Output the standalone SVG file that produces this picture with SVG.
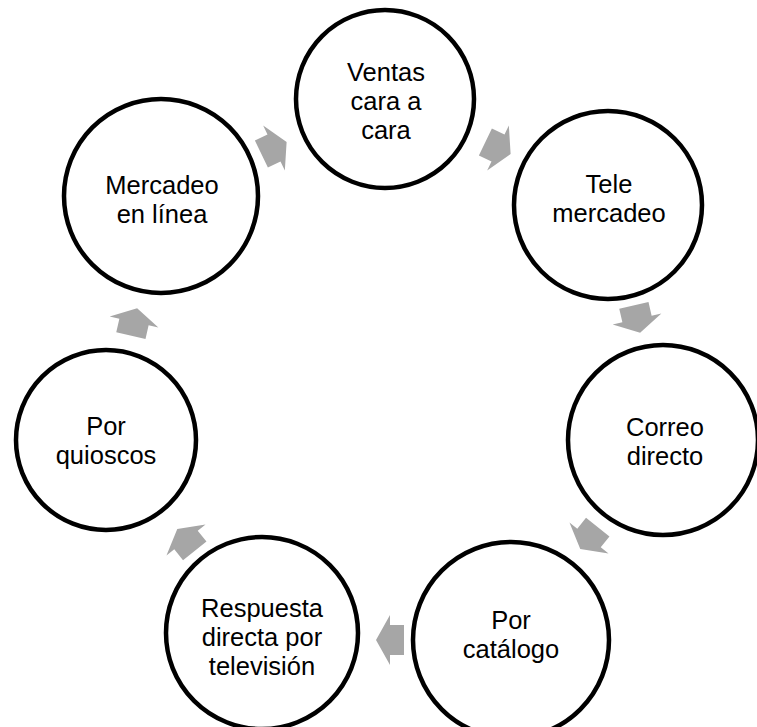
<svg xmlns="http://www.w3.org/2000/svg" xmlns:xlink="http://www.w3.org/1999/xlink" width="757" height="727" viewBox="0 0 757 727">
  <style>
    .node { fill: #FFFFFF; stroke: #000000; stroke-width: 4.5; }
    .label { font-family: "Liberation Sans", Arial, sans-serif; font-size: 25.5px; fill: #000000; text-anchor: middle; }
    .arrow { fill: #A6A6A6; }
  </style>
  <defs>
    <!-- block arrow pointing along +x, centred on the origin -->
    <polygon id="arr" points="-14,-15 0,-15 0,-25 14,0 0,25 0,15 -14,15"/>
  </defs>
  <rect width="757" height="727" fill="#FFFFFF"/>

  <g id="connectors">
    <use xlink:href="#arr" class="arrow" transform="translate(498,148) rotate(25.7)"/>
    <use xlink:href="#arr" class="arrow" transform="translate(637,319) rotate(77.1)"/>
    <use xlink:href="#arr" class="arrow" transform="translate(589,538) rotate(128.6)"/>
    <use xlink:href="#arr" class="arrow" transform="translate(390,640) rotate(180)"/>
    <use xlink:href="#arr" class="arrow" transform="translate(186,540) rotate(231.4)"/>
    <use xlink:href="#arr" class="arrow" transform="translate(134,322) rotate(282.9)"/>
    <use xlink:href="#arr" class="arrow" transform="translate(274,148) rotate(334.3)"/>
  </g>

  <g id="ventas">
    <circle class="node" cx="385" cy="99" r="89"/>
    <text class="label" x="386" y="81">Ventas</text>
    <text class="label" x="386" y="110">cara a</text>
    <text class="label" x="386" y="139">cara</text>
  </g>

  <g id="telemercadeo">
    <circle class="node" cx="608" cy="205" r="94"/>
    <text class="label" x="609" y="193">Tele</text>
    <text class="label" x="609" y="222">mercadeo</text>
  </g>

  <g id="correo">
    <circle class="node" cx="663" cy="440" r="95"/>
    <text class="label" x="665" y="436">Correo</text>
    <text class="label" x="665" y="465">directo</text>
  </g>

  <g id="catalogo">
    <circle class="node" cx="511" cy="640" r="98"/>
    <text class="label" x="511" y="629">Por</text>
    <text class="label" x="511" y="658">catálogo</text>
  </g>

  <g id="television">
    <circle class="node" cx="262" cy="633" r="96"/>
    <text class="label" x="262" y="617">Respuesta</text>
    <text class="label" x="262" y="646">directa por</text>
    <text class="label" x="262" y="675">televisión</text>
  </g>

  <g id="quioscos">
    <circle class="node" cx="106" cy="440" r="90"/>
    <text class="label" x="106" y="435">Por</text>
    <text class="label" x="106" y="464">quioscos</text>
  </g>

  <g id="enlinea">
    <circle class="node" cx="161" cy="196" r="97"/>
    <text class="label" x="162" y="194">Mercadeo</text>
    <text class="label" x="162" y="223">en línea</text>
  </g>
</svg>
